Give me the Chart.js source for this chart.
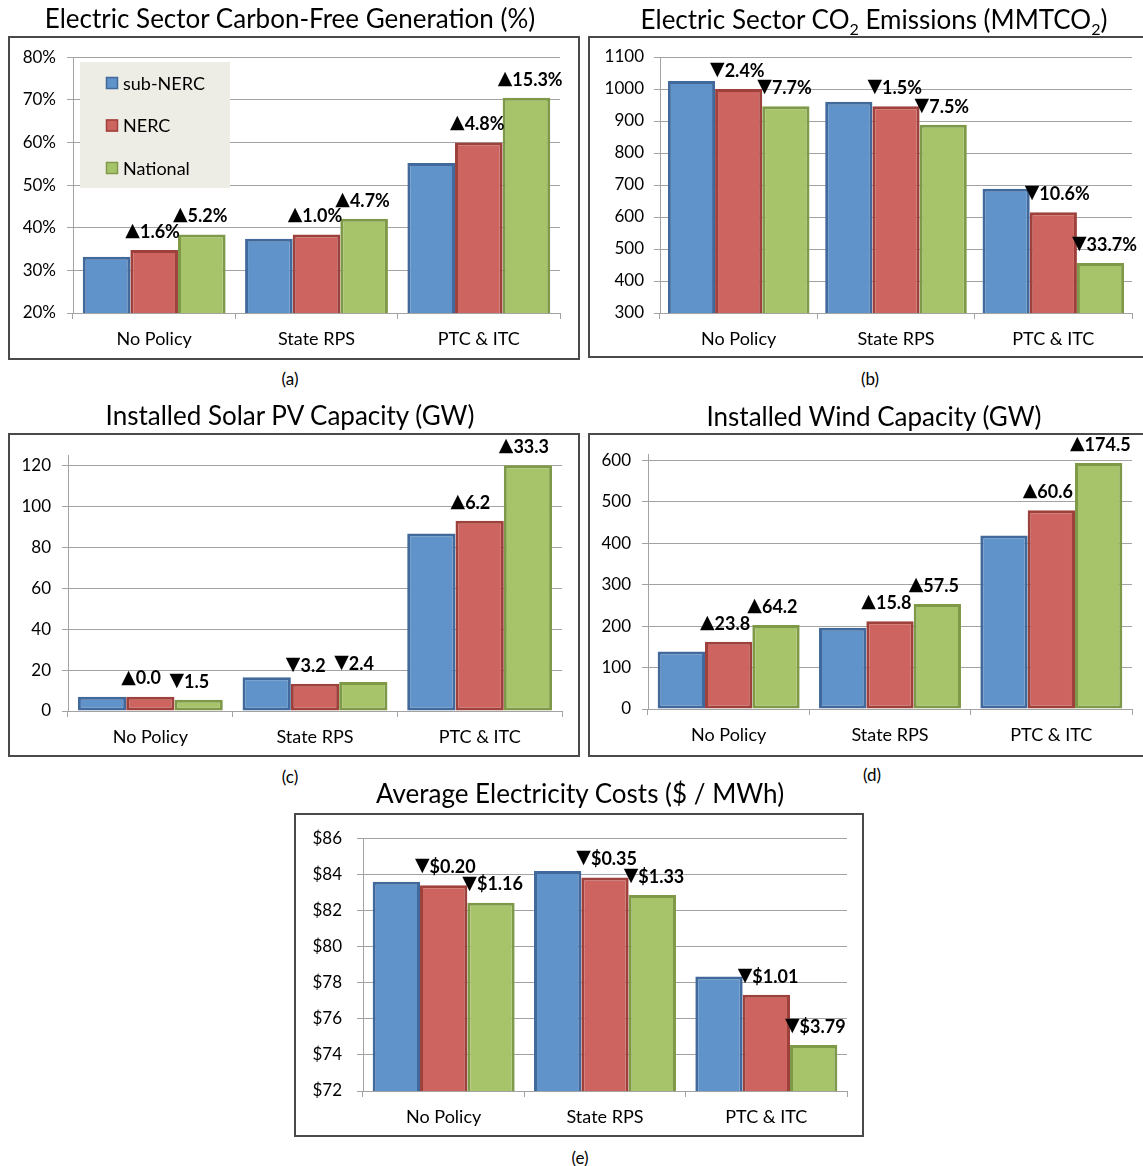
<!DOCTYPE html>
<html>
<head>
<meta charset="utf-8">
<script src="https://cdn.jsdelivr.net/npm/chart.js@4.4.1/dist/chart.umd.min.js"></script>
<style>
  html, body { margin: 0; padding: 0; background: #fff; }
  #page { position: relative; width: 1143px; height: 1166px; overflow: hidden;
          font-family: Lato, "Open Sans", sans-serif; color: #000; }
  .title { position: absolute; white-space: nowrap; font-size: 26px; line-height: 1;
           transform: translate(-50%, -50%); }
  .title sub { font-size: 16px; vertical-align: -6px; line-height: 0; }
  .cap { position: absolute; font-size: 17px; line-height: 1; transform: translate(-50%, -50%); }
  .frame { position: absolute; border: 2px solid #4a4a4a; box-sizing: border-box; pointer-events: none; }
  canvas { position: absolute; }
</style>
</head>
<body>
<div id="page"></div>
<script>
// ---- shared categories and series ----
const categories = ['No Policy', 'State RPS', 'PTC & ITC'];
const seriesNames = ['sub-NERC', 'NERC', 'National'];

// (a) electric sector carbon-free generation, %
const cfSubNerc   = [33.2, 37.4, 55.2];
const cfNerc      = [34.8, 38.4, 60.0];
const cfNational  = [38.4, 42.1, 70.5];
const cfNercChange     = ['▲1.6%', '▲1.0%', '▲4.8%'];
const cfNationalChange = ['▲5.2%', '▲4.7%', '▲15.3%'];

// (b) electric sector CO2 emissions, MMTCO2
const co2SubNerc  = [1025, 960, 688];
const co2Nerc     = [1000, 946, 615];
const co2National = [946, 888, 456];
const co2NercChange     = ['▼2.4%', '▼1.5%', '▼10.6%'];
const co2NationalChange = ['▼7.7%', '▼7.5%', '▼33.7%'];

// (c) installed solar PV capacity, GW
const pvSubNerc   = [7.0, 16.5, 86.7];
const pvNerc      = [7.0, 13.3, 92.9];
const pvNational  = [5.5, 14.1, 120.0];
const pvNercChange     = ['▲0.0', '▼3.2', '▲6.2'];
const pvNationalChange = ['▼1.5', '▼2.4', '▲33.3'];

// (d) installed wind capacity, GW
const windSubNerc  = [138.6, 196.0, 419.0];
const windNerc     = [162.4, 211.8, 479.6];
const windNational = [202.8, 253.5, 593.5];
const windNercChange     = ['▲23.8', '▲15.8', '▲60.6'];
const windNationalChange = ['▲64.2', '▲57.5', '▲174.5'];

// (e) average electricity costs, $/MWh
const costSubNerc  = [83.59, 84.18, 78.34];
const costNerc     = [83.39, 83.83, 77.33];
const costNational = [82.43, 82.85, 74.55];
const costNercChange     = ['▼$0.20', '▼$0.35', '▼$1.01'];
const costNationalChange = ['▼$1.16', '▼$1.33', '▼$3.79'];

// ---- styling ----
const FILLS = ['#5F93C9', '#CD645F', '#A8C46B'];
const EDGES = ['#41699C', '#9E403C', '#7E9A48'];
const GRID = '#A3A3A3';
const FONT = 'Lato, "Open Sans", sans-serif';
Chart.defaults.font.family = FONT;
Chart.defaults.color = '#000';

const page = document.getElementById('page');

function addText(cls, html, x, y) {
  const d = document.createElement('div');
  d.className = cls;
  d.innerHTML = html;
  d.style.left = x + 'px';
  d.style.top = y + 'px';
  page.appendChild(d);
}

// change labels (arrow + amount) written just above the NERC and National bars
const changeLabels = {
  id: 'changeLabels',
  afterDatasetsDraw(chart, args, opts) {
    const ctx = chart.ctx;
    ctx.save();
    ctx.fillStyle = '#000';
    ctx.textBaseline = 'middle';
    ctx.textAlign = 'left';
    opts.texts.forEach((arr, di) => {
      if (!arr) return;
      const meta = chart.getDatasetMeta(di);
      meta.data.forEach((bar, i) => {
        const s = arr[i];
        const arrow = s.charAt(0);
        const amount = s.slice(1);
        let x = bar.x - bar.width / 2 - 5;
        const y = bar.y - 19;
        ctx.font = '19px "DejaVu Sans", sans-serif';
        ctx.fillText(arrow, x, y);
        x += ctx.measureText(arrow).width;
        ctx.font = 'bold 18px ' + FONT;
        ctx.fillText(amount, x, y + 1);
      });
    });
    ctx.restore();
  }
};

// boxed legend drawn inside the plot area
const boxLegend = {
  id: 'boxLegend',
  afterDraw(chart, args, opts) {
    if (!opts.show) return;
    const ctx = chart.ctx;
    const [x, y, w, h] = opts.rect;
    ctx.save();
    ctx.fillStyle = '#EEEDE5';
    ctx.fillRect(x, y, w, h);
    ctx.font = '18px ' + FONT;
    ctx.textBaseline = 'middle';
    chart.data.datasets.forEach((ds, i) => {
      const cy = y + 21 + i * 42.5;
      ctx.fillStyle = ds.backgroundColor;
      ctx.fillRect(x + 26, cy - 6, 12, 12);
      ctx.strokeStyle = ds.borderColor;
      ctx.lineWidth = 1.5;
      ctx.strokeRect(x + 26.5, cy - 5.5, 11, 11);
      ctx.fillStyle = '#000';
      ctx.fillText(ds.label, x + 43, cy + 1);
    });
    ctx.restore();
  }
};

function panel(spec) {
  const [L, T, R, B] = spec.box;
  const [pl, pt, pr, pb] = spec.plot;
  const W = R - L, H = B - T;
  const cv = document.createElement('canvas');
  cv.width = W; cv.height = H;
  cv.style.left = L + 'px'; cv.style.top = T + 'px';
  cv.style.width = W + 'px'; cv.style.height = H + 'px';
  page.appendChild(cv);
  const fr = document.createElement('div');
  fr.className = 'frame';
  Object.assign(fr.style, { left: L + 'px', top: T + 'px', width: W + 'px', height: H + 'px' });
  page.appendChild(fr);
  addText('title', spec.title, spec.titleX, spec.titleY);
  addText('cap', spec.caption, spec.capX, spec.capY);

  new Chart(cv.getContext('2d'), {
    type: 'bar',
    data: {
      labels: categories,
      datasets: spec.series.map((d, i) => ({
        label: seriesNames[i],
        data: d,
        backgroundColor: FILLS[i],
        borderColor: EDGES[i],
        borderWidth: 3,
        borderSkipped: false,
        categoryPercentage: spec.catPct,
        barPercentage: 1
      }))
    },
    options: {
      responsive: false,
      animation: false,
      devicePixelRatio: 1,
      layout: { padding: { left: 0, top: pt - T, right: R - pr, bottom: 0 } },
      plugins: {
        legend: { display: false },
        tooltip: { enabled: false },
        changeLabels: { texts: [null, spec.changes[0], spec.changes[1]] },
        boxLegend: spec.legend ? { show: true, rect: spec.legend } : { show: false }
      },
      scales: {
        x: {
          grid: { offset: true, drawOnChartArea: false, drawTicks: true, tickLength: 6, color: GRID },
          border: { color: GRID, width: 1 },
          ticks: { font: { size: 18 }, color: '#000', padding: 9, maxRotation: 0 },
          afterFit(s) { s.height = B - pb; }
        },
        y: {
          min: spec.yMin, max: spec.yMax,
          grid: { color: GRID, tickLength: 6 },
          border: { color: GRID, width: 1 },
          ticks: { stepSize: spec.step, includeBounds: false, font: { size: 17 }, color: '#000',
                   padding: spec.tickPad, callback: spec.fmt },
          afterFit(s) { s.width = pl - L; }
        }
      }
    },
    plugins: [changeLabels, boxLegend]
  });
}

panel({
  title: 'Electric Sector Carbon-Free Generation (%)', titleX: 290, titleY: 18,
  caption: '(a)', capX: 290, capY: 378,
  box: [8, 36, 580, 360], plot: [73, 56, 560, 313],
  yMin: 20, yMax: 80, step: 10, tickPad: 11, fmt: v => v + '%',
  catPct: 0.88,
  series: [cfSubNerc, cfNerc, cfNational],
  changes: [cfNercChange, cfNationalChange],
  legend: [72, 26, 150, 126]
});

panel({
  title: 'Electric Sector CO<sub>2</sub> Emissions (MMTCO<sub>2</sub>)', titleX: 874, titleY: 19,
  caption: '(b)', capX: 870, capY: 378,
  box: [588, 36, 1147, 358], plot: [660, 57, 1132, 313],
  yMin: 300, yMax: 1100, step: 100, tickPad: 10, fmt: v => String(v),
  catPct: 0.9,
  series: [co2SubNerc, co2Nerc, co2National],
  changes: [co2NercChange, co2NationalChange]
});

panel({
  title: 'Installed Solar PV Capacity (GW)', titleX: 290, titleY: 415,
  caption: '(c)', capX: 290, capY: 776,
  box: [8, 433, 580, 757], plot: [68, 455, 562, 711],
  yMin: 0, yMax: 125, step: 20, tickPad: 11, fmt: v => String(v),
  catPct: 0.88,
  series: [pvSubNerc, pvNerc, pvNational],
  changes: [pvNercChange, pvNationalChange]
});

panel({
  title: 'Installed Wind Capacity (GW)', titleX: 874, titleY: 416,
  caption: '(d)', capX: 872, capY: 774,
  box: [588, 433, 1147, 757], plot: [648, 453, 1132, 709],
  yMin: 0, yMax: 615, step: 100, tickPad: 11, fmt: v => String(v),
  catPct: 0.88,
  series: [windSubNerc, windNerc, windNational],
  changes: [windNercChange, windNationalChange]
});

panel({
  title: 'Average Electricity Costs ($ / MWh)', titleX: 580, titleY: 793,
  caption: '(e)', capX: 580, capY: 1157,
  box: [294, 813, 864, 1137], plot: [363, 832, 847, 1091],
  yMin: 72, yMax: 86, step: 2, tickPad: 15, fmt: v => '$' + v,
  catPct: 0.88,
  series: [costSubNerc, costNerc, costNational],
  changes: [costNercChange, costNationalChange]
});
</script>
</body>
</html>
